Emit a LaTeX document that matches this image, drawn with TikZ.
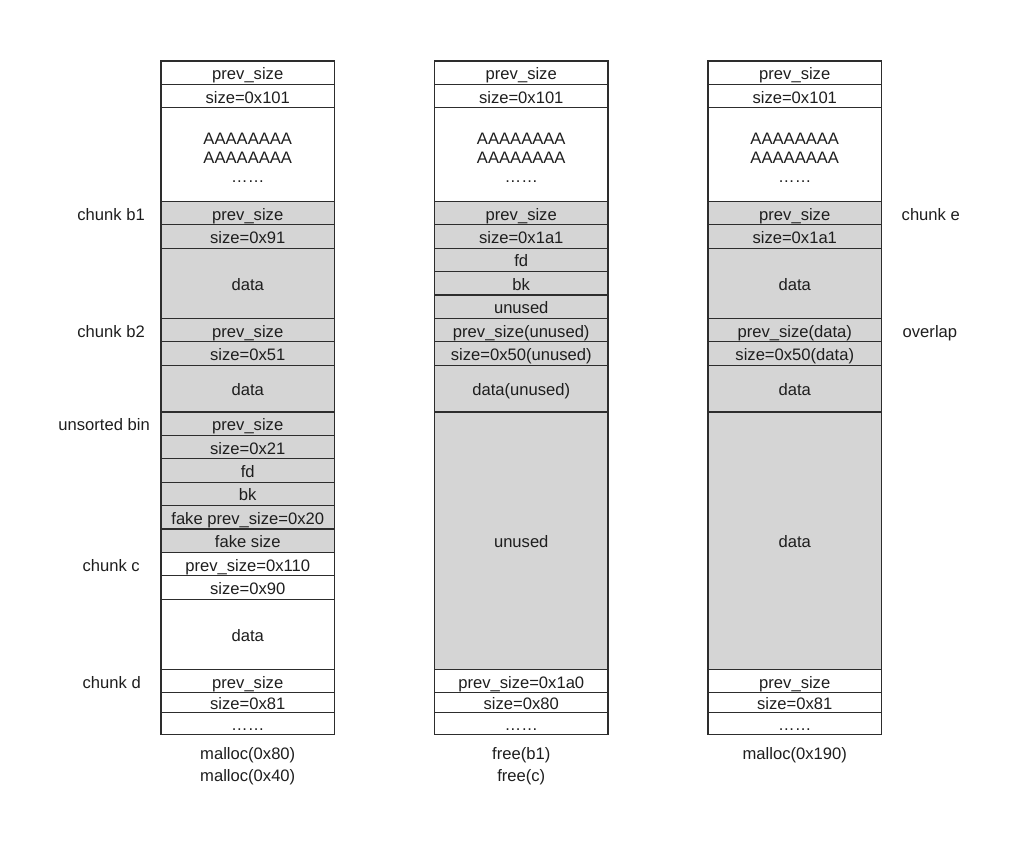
\documentclass[tikz,border=0pt]{standalone}
\usepackage{fontspec}
\setmainfont{Liberation Sans}
\usetikzlibrary{positioning}
\definecolor{cellline}{RGB}{45,45,45}
\definecolor{chunkgray}{RGB}{213,213,213}
\definecolor{inkgray}{RGB}{30,30,30}

\begin{document}
\begin{tikzpicture}[
    cell/.style={draw=cellline, line width=1.3pt, minimum width=173.5pt,
      minimum height=23.4pt, inner sep=0pt, outer sep=0pt, text=inkgray,
      font=\fontsize{16.6}{19}\selectfont, text height=14pt, text depth=0pt},
    used/.style={cell, fill=chunkgray},
    span/.style={minimum height=#1*23.4pt},
    multi/.style={align=center, text height={}, text depth={}},
    tag/.style={text=inkgray, inner sep=0pt, font=\fontsize{16.6}{22}\selectfont,
      text height=14pt, text depth=0pt},
  ]
  \useasboundingbox (0,0) rectangle (1014pt,-844pt);

  % malloc(0x80), malloc(0x40)
  \node[cell, anchor=north west] (Lprev) at (161pt,-61pt) {prev\_size};
  \node[cell, below=0pt of Lprev] (Lsize) {size=0x101};
  \node[cell, multi, span=4, below=0pt of Lsize] (Lfill) {\rule{0pt}{17.5pt}AAAAAAAA\\AAAAAAAA\\……};
  \node[used, below=0pt of Lfill] (Lb1prev) {prev\_size};
  \node[used, below=0pt of Lb1prev] (Lb1size) {size=0x91};
  \node[used, span=3, below=0pt of Lb1size] (Lb1data) {data};
  \node[used, below=0pt of Lb1data] (Lb2prev) {prev\_size};
  \node[used, below=0pt of Lb2prev] (Lb2size) {size=0x51};
  \node[used, span=2, below=0pt of Lb2size] (Lb2data) {data};
  \node[used, below=0pt of Lb2data] (Lubprev) {prev\_size};
  \node[used, below=0pt of Lubprev] (Lubsize) {size=0x21};
  \node[used, below=0pt of Lubsize] (Lubfd) {fd};
  \node[used, below=0pt of Lubfd] (Lubbk) {bk};
  \node[used, below=0pt of Lubbk] (Lfakeprev) {fake prev\_size=0x20};
  \node[used, below=0pt of Lfakeprev] (Lfakesize) {fake size};
  \node[cell, below=0pt of Lfakesize] (Lcprev) {prev\_size=0x110};
  \node[cell, below=0pt of Lcprev] (Lcsize) {size=0x90};
  \node[cell, span=3, below=0pt of Lcsize] (Lcdata) {data};
  \node[cell, below=0pt of Lcdata] (Ldprev) {prev\_size};
  \node[cell, minimum height=20pt, below=0pt of Ldprev] (Ldsize) {size=0x81};
  \node[cell, minimum height=22pt, below=0pt of Ldsize] (Ldmore) {……};
  \node[tag, multi, below=12pt of Ldmore] (Lops) {malloc(0x80)\\malloc(0x40)};

  \node[tag, left=16pt of Lb1prev] (Tb1) {chunk b1};
  \node[tag, left=16pt of Lb2prev] (Tb2) {chunk b2};
  \node[tag, left=11pt of Lubprev] (Tub) {unsorted bin};
  \node[tag, left=21pt of Lcprev] (Tc) {chunk c};
  \node[tag, left=20pt of Ldprev] (Td) {chunk d};

  % free(b1), free(c)
  \node[cell, right=100pt of Lprev] (Mprev) {prev\_size};
  \node[cell, below=0pt of Mprev] (Msize) {size=0x101};
  \node[cell, multi, span=4, below=0pt of Msize] (Mfill) {\rule{0pt}{17.5pt}AAAAAAAA\\AAAAAAAA\\……};
  \node[used, below=0pt of Mfill] (Mb1prev) {prev\_size};
  \node[used, below=0pt of Mb1prev] (Mb1size) {size=0x1a1};
  \node[used, below=0pt of Mb1size] (Mfd) {fd};
  \node[used, below=0pt of Mfd] (Mbk) {bk};
  \node[used, below=0pt of Mbk] (Munused) {unused};
  \node[used, below=0pt of Munused] (Mb2prev) {prev\_size(unused)};
  \node[used, below=0pt of Mb2prev] (Mb2size) {size=0x50(unused)};
  \node[used, span=2, below=0pt of Mb2size] (Mb2data) {data(unused)};
  \node[used, span=11, below=0pt of Mb2data] (Mfree) {unused};
  \node[cell, below=0pt of Mfree] (Mdprev) {prev\_size=0x1a0};
  \node[cell, minimum height=20pt, below=0pt of Mdprev] (Mdsize) {size=0x80};
  \node[cell, minimum height=22pt, below=0pt of Mdsize] (Mdmore) {……};
  \node[tag, multi, below=12pt of Mdmore] (Mops) {free(b1)\\free(c)};

  % malloc(0x190)
  \node[cell, right=100pt of Mprev] (Rprev) {prev\_size};
  \node[cell, below=0pt of Rprev] (Rsize) {size=0x101};
  \node[cell, multi, span=4, below=0pt of Rsize] (Rfill) {\rule{0pt}{17.5pt}AAAAAAAA\\AAAAAAAA\\……};
  \node[used, below=0pt of Rfill] (Reprev) {prev\_size};
  \node[used, below=0pt of Reprev] (Resize) {size=0x1a1};
  \node[used, span=3, below=0pt of Resize] (Redata) {data};
  \node[used, below=0pt of Redata] (Rb2prev) {prev\_size(data)};
  \node[used, below=0pt of Rb2prev] (Rb2size) {size=0x50(data)};
  \node[used, span=2, below=0pt of Rb2size] (Rb2data) {data};
  \node[used, span=11, below=0pt of Rb2data] (Rrest) {data};
  \node[cell, below=0pt of Rrest] (Rdprev) {prev\_size};
  \node[cell, minimum height=20pt, below=0pt of Rdprev] (Rdsize) {size=0x81};
  \node[cell, minimum height=22pt, below=0pt of Rdsize] (Rdmore) {……};
  \node[tag, multi, below=12pt of Rdmore] (Rops) {malloc(0x190)};

  \node[tag, right=20pt of Reprev] (Te) {chunk e};
  \node[tag, right=21pt of Rb2prev] (Tover) {overlap};
\end{tikzpicture}
\end{document}
